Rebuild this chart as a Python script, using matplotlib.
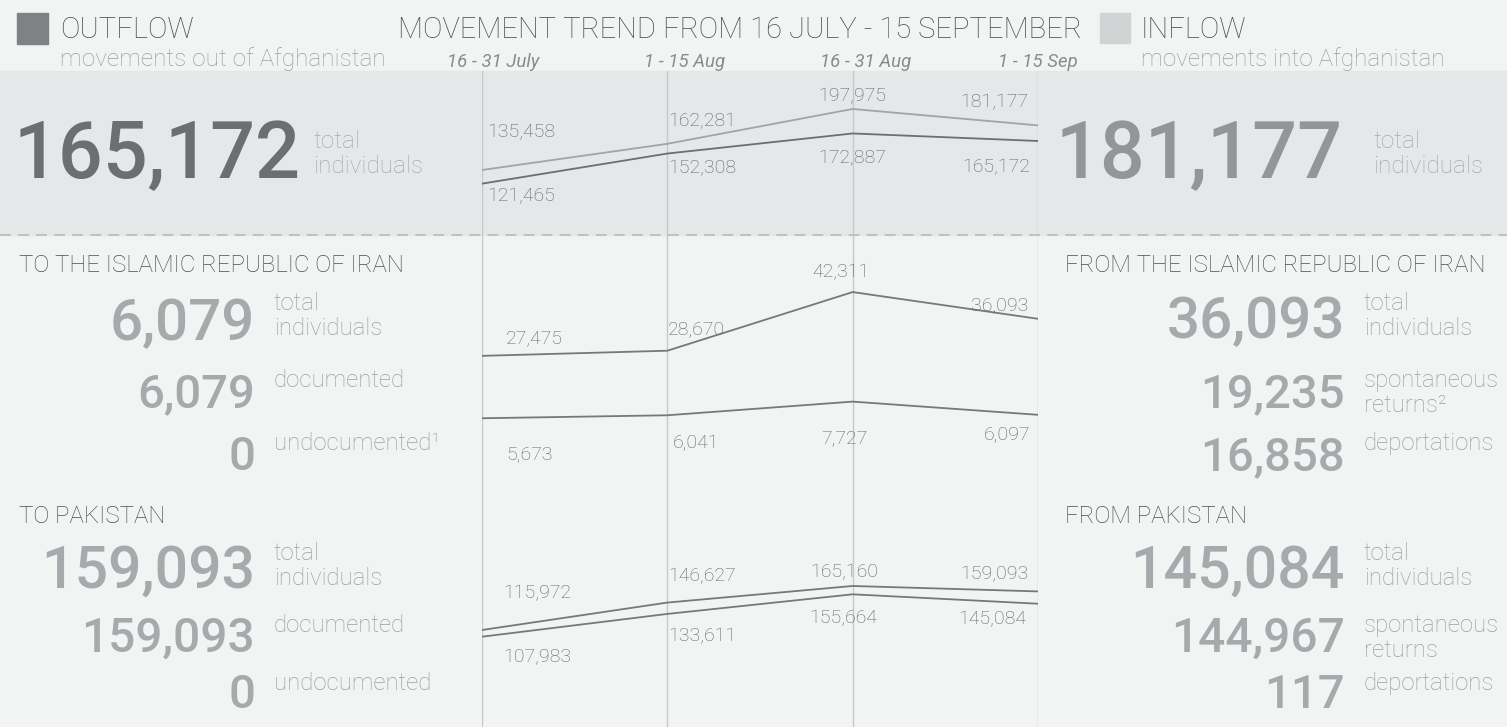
import matplotlib
matplotlib.use('Agg')
import matplotlib.pyplot as plt

plt.rcParams['font.family'] = ['Roboto', 'DejaVu Sans']

# data
periods = ['16 - 31 July', '1 - 15 Aug', '16 - 31 Aug', '1 - 15 Sep']
inflow_total = [135458, 162281, 197975, 181177]
outflow_total = [121465, 152308, 172887, 165172]
inflow_iran = [27475, 28670, 42311, 36093]
outflow_iran = [5673, 6041, 7727, 6097]
outflow_pak = [115972, 146627, 165160, 159093]
inflow_pak = [107983, 133611, 155664, 145084]

outflow_sum = 165172
inflow_sum = 181177
to_iran = [6079, 6079, 0]
to_iran_lab = ['total\nindividuals', 'documented', 'undocumented\u00b9']
to_pak = [159093, 159093, 0]
to_pak_lab = ['total\nindividuals', 'documented', 'undocumented']
from_iran = [36093, 19235, 16858]
from_iran_lab = ['total\nindividuals', 'spontaneous\nreturns\u00b2', 'deportations']
from_pak = [145084, 144967, 117]
from_pak_lab = ['total\nindividuals', 'spontaneous\nreturns', 'deportations']

# colours
BG = '#f2f3f3'
BAND = '#e6e7e8'
DARK = '#4d4e50'
MID = '#6d6e71'
NUM = '#a7a9ac'
SOFT = '#9d9fa2'
W, H = 1507, 727

fig = plt.figure(figsize=(W / 100, H / 100), dpi=100)
fig.patch.set_facecolor(BG)
bg = fig.add_axes([0, 0, 1, 1])
bg.set_xlim(0, W)
bg.set_ylim(H, 0)
bg.axis('off')

# grey band + dashed separator
bg.axhspan(71, 235, color=BAND, zorder=0)
bg.plot([0, W], [235, 235], color='#bcbec0', lw=1.3, dashes=(6, 4), zorder=1)

# header
bg.add_patch(plt.Rectangle((17, 13), 31, 31, color='#808184'))
bg.add_patch(plt.Rectangle((1100, 13), 30, 30, color='#d1d3d4'))
bg.text(60, 38, 'OUTFLOW', fontsize=21, color=DARK, fontweight='light', va='baseline')
bg.text(60, 66, 'movements out of Afghanistan', fontsize=17.6, color=SOFT,
        fontweight='light', va='baseline')
bg.text(1141, 38, 'INFLOW', fontsize=21, color=DARK, fontweight='light', va='baseline')
bg.text(1141, 66, 'movements into Afghanistan', fontsize=17.6, color=SOFT,
        fontweight='light', va='baseline')
bg.text(740, 38, 'MOVEMENT TREND FROM 16 JULY - 15 SEPTEMBER', fontsize=21, color=DARK,
        fontweight='light', va='baseline', ha='center')

# big totals
bg.text(301, 178, f'{outflow_sum:,}', fontsize=57, color=MID, fontweight='medium',
        ha='right', va='baseline')
bg.text(313, 148, 'total', fontsize=17.5, color=NUM, fontweight='light', va='baseline')
bg.text(313, 173, 'individuals', fontsize=17.5, color=NUM, fontweight='light', va='baseline')
bg.text(1343, 178, f'{inflow_sum:,}', fontsize=57, color='#939598', fontweight='medium',
        ha='right', va='baseline')
bg.text(1373, 148, 'total', fontsize=17.5, color=NUM, fontweight='light', va='baseline')
bg.text(1373, 173, 'individuals', fontsize=17.5, color=NUM, fontweight='light', va='baseline')


def block(title, tx, ty, vals, labs, xr, num_base, lab_base, sizes):
    bg.text(tx, ty, title, fontsize=17.3, color=DARK, fontweight='light', va='baseline')
    for v, lab, nb, lb, fs in zip(vals, labs, num_base, lab_base, sizes):
        bg.text(xr, nb, f'{v:,}', fontsize=fs, color=NUM, fontweight='medium',
                ha='right', va='baseline')
        for k, line in enumerate(lab.split('\n')):
            bg.text(xr + 19, lb + k * 25, line, fontsize=17.3, color=SOFT,
                    fontweight='light', va='baseline')


block('TO THE ISLAMIC REPUBLIC OF IRAN', 19, 272, to_iran, to_iran_lab, 255,
      [340, 407, 470], [310, 387, 450], [42, 34, 34])
block('TO PAKISTAN', 19, 523, to_pak, to_pak_lab, 255,
      [588, 652, 708], [560, 632, 690], [42.5, 34.5, 34])
block('FROM THE ISLAMIC REPUBLIC OF IRAN', 1065, 272, from_iran, from_iran_lab, 1345,
      [338, 407, 470], [310, 387, 450], [42, 34, 34])
block('FROM PAKISTAN', 1065, 523, from_pak, from_pak_lab, 1345,
      [588, 652, 708], [560, 632, 690], [42.5, 34.5, 34])

# trend lines: each series on its own transparent axes (pixel of zero, px per unit)
X0, X1 = 482, 1038
series = [
    (inflow_total, (302.2, 0.000976), '#a2a4a6',
     [(5, 38, 'left'), (1, 23, 'left'), (0, 13, 'center'), (-10, 23, 'right')]),
    (outflow_total, (302.2, 0.000976), MID,
     [(5, -13, 'left'), (1, -15, 'left'), (0, -25, 'center'), (-8, -26, 'right')]),
    (inflow_iran, (474.0, 0.0043), '#77787b',
     [(24, 18, 'left'), (1, 21, 'left'), (-12, 20, 'center'), (-10, 14, 'right')]),
    (outflow_iran, (464.2, 0.0081), '#77787b',
     [(24, -36, 'left'), (5, -28, 'left'), (-8, -37, 'center'), (-8, -19, 'right')]),
    (outflow_pak, (733.8, 0.000895), '#77787b',
     [(21, 37, 'left'), (1, 26, 'left'), (-8, 14, 'center'), (-10, 17, 'right')]),
    (inflow_pak, (732.7, 0.000889), '#77787b',
     [(21, -21, 'left'), (1, -22, 'left'), (-9, -24, 'center'), (-12, -16, 'right')]),
]

x = list(range(len(periods)))
for n, (vals, (p0, s), col, offs) in enumerate(series):
    ax = fig.add_axes([X0 / W, 0, (X1 - X0) / W, 1])
    ax.set_xlim(0, 3)
    ax.set_ylim((p0 - H) / s, p0 / s)
    ax.patch.set_visible(False)
    ax.axis('off')
    if n == 0:
        for i in x:
            ax.axvline(i, ymin=0, ymax=1 - 71 / H, color='#c7c8ca', lw=1, zorder=0)
    ax.plot(x, vals, color=col, lw=1.3, zorder=3)
    for i, v in enumerate(vals):
        dx, dy, ha = offs[i]
        ax.annotate(f'{v:,}', xy=(i, v), xytext=(dx, dy), textcoords='offset pixels',
                    ha=ha, va='center', fontsize=14, color='#626366', fontweight='light')

# period labels
pax = fig.add_axes([X0 / W, 0, (X1 - X0) / W, 1])
pax.set_xlim(0, 3)
pax.set_ylim(H, 0)
pax.patch.set_visible(False)
pax.axis('off')
for i, (p, dx) in enumerate(zip(periods, [11, 17, 13, 0])):
    pax.annotate(p, xy=(i, 67), xytext=(dx, 0), textcoords='offset pixels', ha='center',
                 va='baseline', fontsize=13.4, color='#8a8b8e', style='italic')

fig.savefig('out.png', dpi=100, facecolor=BG)
